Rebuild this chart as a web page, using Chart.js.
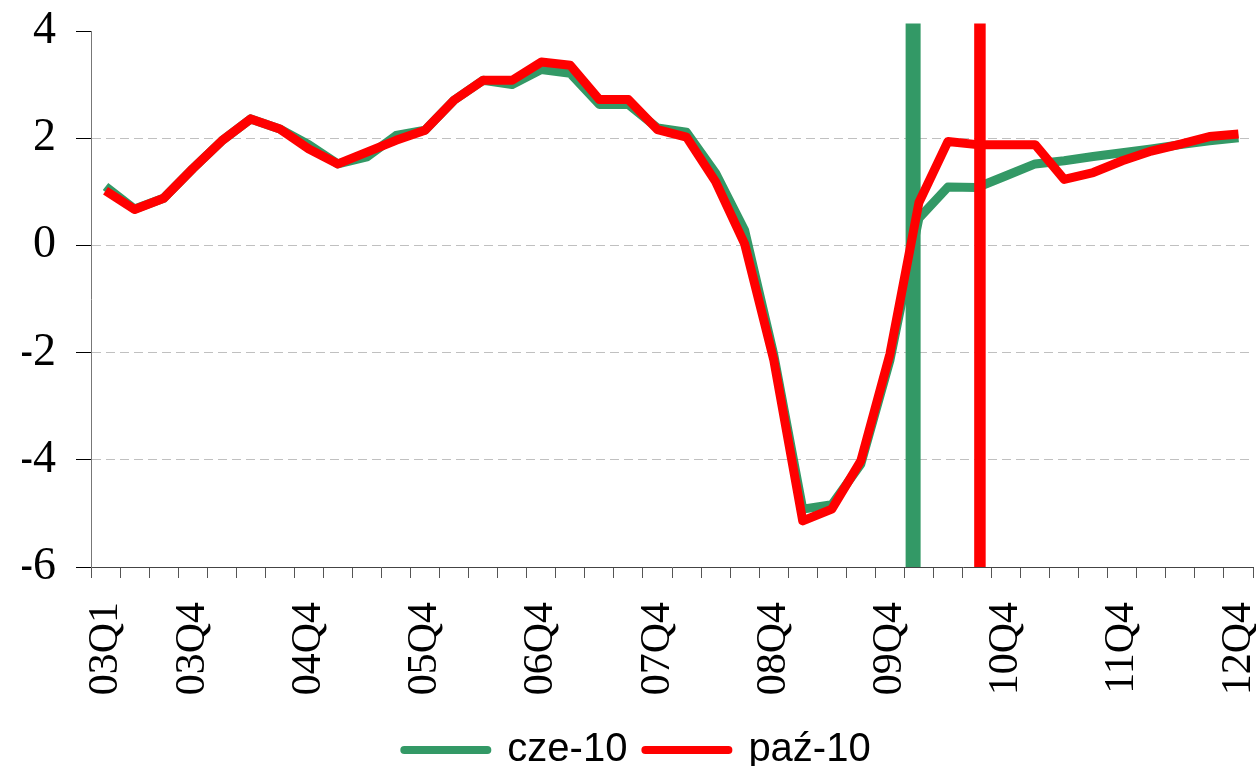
<!DOCTYPE html>
<html>
<head>
<meta charset="utf-8">
<script src="https://cdn.jsdelivr.net/npm/chart.js@4.4.0/dist/chart.umd.min.js"></script>
<style>
  html, body { margin: 0; padding: 0; background: #fff; }
  #wrap { width: 1256px; height: 766px; }
</style>
</head>
<body>
<div id="wrap"><canvas id="gdpChart"></canvas></div>
<script>
const quarters = [
    '03Q1', '03Q2', '03Q3', '03Q4', '04Q1', '04Q2', '04Q3', '04Q4',
    '05Q1', '05Q2', '05Q3', '05Q4', '06Q1', '06Q2', '06Q3', '06Q4',
    '07Q1', '07Q2', '07Q3', '07Q4', '08Q1', '08Q2', '08Q3', '08Q4',
    '09Q1', '09Q2', '09Q3', '09Q4', '10Q1', '10Q2', '10Q3', '10Q4',
    '11Q1', '11Q2', '11Q3', '11Q4', '12Q1', '12Q2', '12Q3', '12Q4'
];
const shownQuarters = ['03Q1', '03Q4', '04Q4', '05Q4', '06Q4', '07Q4', '08Q4', '09Q4', '10Q4', '11Q4', '12Q4'];

const seriesNames = ['cze-10', 'paź-10'];
const juneValues = [
    1.10, 0.68, 0.88, 1.43, 1.95, 2.36, 2.17, 1.88,
    1.52, 1.65, 2.05, 2.15, 2.71, 3.08, 3.00, 3.28,
    3.21, 2.63, 2.63, 2.19, 2.11, 1.35, 0.28, -2.03,
    -4.92, -4.84, -4.08, -2.15, 0.51, 1.09, 1.08, 1.30,
    1.52, 1.58, 1.66, 1.73, 1.80, 1.88, 1.95, 2.01
];
const octoberValues = [
    1.02, 0.67, 0.88, 1.43, 1.95, 2.36, 2.17, 1.80,
    1.52, 1.74, 1.96, 2.15, 2.71, 3.08, 3.08, 3.42,
    3.36, 2.72, 2.72, 2.16, 2.02, 1.19, 0.03, -2.13,
    -5.14, -4.92, -4.02, -2.03, 0.80, 1.94, 1.88, 1.88,
    1.88, 1.23, 1.36, 1.58, 1.76, 1.89, 2.03, 2.08
];

// forecast cut-off markers, in quarter-index units
const cutoffPositions = [27.8, 30.1];
const cutoffTop = 4.14;

const yMin = -6;
const yMax = 4;
const yStep = 2;

const GREEN = '#339966';
const RED = '#ff0000';

function verticalLine(pos) {
    return [{ x: pos, y: cutoffTop }, { x: pos, y: yMin }];
}

const ctx = document.getElementById('gdpChart').getContext('2d');

new Chart(ctx, {
    type: 'line',
    data: {
        labels: quarters,
        datasets: [
            {
                label: seriesNames[0],
                data: juneValues,
                borderColor: GREEN,
                backgroundColor: GREEN,
                borderWidth: 9,
                borderJoinStyle: 'round',
                pointRadius: 0,
                tension: 0,
                order: 4
            },
            {
                label: seriesNames[1],
                data: octoberValues,
                borderColor: RED,
                backgroundColor: RED,
                borderWidth: 9,
                borderJoinStyle: 'round',
                pointRadius: 0,
                tension: 0,
                order: 2
            },
            {
                label: 'cutoff-jun',
                data: verticalLine(cutoffPositions[0]),
                xAxisID: 'xv',
                borderColor: GREEN,
                borderWidth: 15,
                borderCapStyle: 'butt',
                pointRadius: 0,
                clip: false,
                order: 3
            },
            {
                label: 'cutoff-oct',
                data: verticalLine(cutoffPositions[1]),
                xAxisID: 'xv',
                borderColor: RED,
                borderWidth: 11.5,
                borderCapStyle: 'butt',
                pointRadius: 0,
                clip: false,
                order: 1
            }
        ]
    },
    options: {
        responsive: true,
        maintainAspectRatio: false,
        animation: false,
        layout: {
            // left padding only nudges the legend; y axis width below keeps the plot edge at 91px
            padding: { top: 31, right: 3, bottom: -14, left: 22 }
        },
        plugins: {
            tooltip: { enabled: false },
            legend: {
                position: 'bottom',
                labels: {
                    color: '#000',
                    font: { family: 'Liberation Sans', size: 40 },
                    usePointStyle: true,
                    pointStyle: 'line',
                    pointStyleWidth: 83,
                    padding: 18,
                    filter: item => item.datasetIndex < 2,
                    sort: (a, b) => a.datasetIndex - b.datasetIndex,
                    generateLabels: chart => Chart.defaults.plugins.legend.labels.generateLabels(chart)
                        .map(item => Object.assign(item, { lineWidth: 8, lineCap: 'round', pointStyle: 'line' }))
                }
            }
        },
        scales: {
            x: {
                type: 'category',
                offset: true,
                grid: {
                    offset: true,
                    drawOnChartArea: false,
                    drawTicks: true,
                    tickLength: 11,
                    tickColor: '#555'
                },
                border: { color: '#444', width: 1 },
                ticks: {
                    autoSkip: false,
                    minRotation: 90,
                    maxRotation: 90,
                    padding: 24,
                    color: '#000',
                    font: { family: 'Liberation Serif', size: 42 },
                    callback: function (value) {
                        const label = this.getLabelForValue(value);
                        return shownQuarters.includes(label) ? label : '';
                    }
                },
                afterFit: scale => {
                    scale.height = 145;
                    scale.paddingLeft = 0;
                    scale.paddingRight = 0;
                }
            },
            xv: {
                type: 'linear',
                axis: 'x',
                display: false,
                min: -0.5,
                max: quarters.length - 0.5
            },
            y: {
                min: yMin,
                max: yMax,
                grid: {
                    color: c => (c.tick.value === yMax || c.tick.value === yMin) ? 'rgba(0,0,0,0)' : '#c0c0c0',
                    tickColor: '#000',
                    tickLength: 15,
                    lineWidth: 1
                },
                border: { color: '#777', width: 1, dash: [9, 5] },
                ticks: {
                    stepSize: yStep,
                    padding: 20,
                    color: '#000',
                    font: { family: 'Liberation Serif', size: 46 }
                },
                afterFit: scale => {
                    scale.width = 69;
                    scale.paddingTop = 0;
                    scale.paddingBottom = 0;
                }
            }
        }
    }
});
</script>
</body>
</html>
